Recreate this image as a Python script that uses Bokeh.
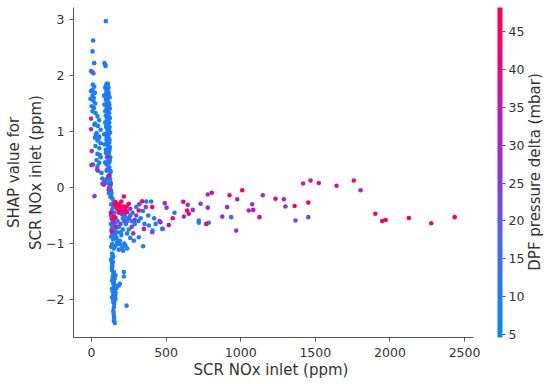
import math
from bokeh.plotting import figure
from bokeh.models import (ColumnDataSource, LinearColorMapper, ColorBar, FixedTicker, Label, Title)
from bokeh.embed import file_html
from bokeh.resources import INLINE

# ---- data (x: SCR NOx inlet ppm, y: SHAP value, c: DPF pressure delta mbar)
upper_left_nox = [11, 7, 18, -3, 13, 5, 9, 18, 7, -3, 23, 7, -7, 13, 25, 2, 16, 7, 27, 40, -3, 52, 23, 43, -3,
                  61, 34, 52, 23, 40, 61, 27, 52, 2, 40, 61, 34, 52, 0, 40, 43, 67, 72, 9, 38, 30, 20, 48, 57, 15]
upper_left_shap = [2.625, 2.43, 2.22, 2.08, 2.04, 2.06, 1.84, 1.80, 1.74, 1.72, 1.69, 1.64, 1.58, 1.55, 1.50, 1.45,
                   1.42, 1.36, 1.33, 1.27, 1.23, 1.20, 1.14, 1.10, 1.04, 1.03, 0.97, 0.91, 0.89, 0.84, 0.79, 0.74,
                   0.70, 0.65, 0.60, 0.54, 0.49, 0.44, 0.40, 0.38, 0.30, 0.26, 0.16, 0.41, 0.32, 0.95, 1.12, 0.87,
                   0.58, 1.60]
upper_left_dpf = [8, 8, 9, 8, 9, 20, 8, 9, 8, 9, 8, 9, 8, 8, 9, 8, 9, 8, 9, 8, 26, 9, 8, 8, 26, 9, 8, 9, 8, 9, 8, 9,
                  8, 27, 8, 9, 8, 9, 26, 8, 27, 9, 8, 26, 26, 9, 8, 9, 8, 9]

upper_right_nox = [96, 87, 94, 92, 101, 110, 105, 96, 92, 114, 110, 101, 98, 116, 85, 107, 112, 121, 96, 105, 105,
                   114, 87, 119, 101, 116, 107, 101, 123, 92, 110, 110, 119, 96, 114, 116, 105, 123, 103, 112, 92,
                   119, 112, 101, 98, 121, 116, 107, 105, 125, 85, 114, 114, 101, 101, 121, 119, 110, 87, 103, 110,
                   123, 121, 96, 96, 116, 114, 105, 103, 125, 109, 123, 112, 92, 119, 110, 101, 119, 105, 101, 127,
                   127, 114, 121, 116, 101, 125, 87, 110, 130, 127, 123, 118, 130, 125, 116, 134, 134, 127]
upper_right_shap = [2.97, 2.22, 2.17, 2.19, 1.85, 1.85, 1.81, 1.81, 1.78, 1.78, 1.73, 1.73, 1.68, 1.68, 1.64, 1.64,
                    1.61, 1.61, 1.57, 1.57, 1.52, 1.52, 1.48, 1.48, 1.48, 1.45, 1.45, 1.41, 1.41, 1.36, 1.36, 1.33,
                    1.33, 1.28, 1.28, 1.24, 1.24, 1.24, 1.21, 1.21, 1.16, 1.16, 1.12, 1.12, 1.08, 1.08, 1.03, 1.03,
                    0.98, 0.98, 0.95, 0.95, 0.90, 0.90, 0.85, 0.85, 0.80, 0.80, 0.77, 0.77, 0.72, 0.72, 0.67, 0.67,
                    0.62, 0.62, 0.59, 0.59, 0.54, 0.54, 0.54, 0.49, 0.49, 0.45, 0.45, 0.41, 0.41, 0.36, 0.32, 0.30,
                    0.30, 0.27, 0.21, 0.21, 0.20, 0.15, 0.15, 0.10, 0.08, 0.08, 0.035, 0.005, 0.005, -0.05, -0.05,
                    -0.10, -0.10, -0.17, -0.17]
upper_right_dpf = [9, 9, 9, 10, 9, 10, 9, 11, 9, 10, 9, 10, 10, 9, 9, 10, 9, 10, 9, 11, 10, 9, 9, 10, 9, 11, 9, 9,
                   10, 10, 9, 9, 10, 11, 9, 9, 10, 9, 9, 10, 10, 9, 9, 11, 9, 10, 10, 9, 9, 10, 10, 9, 9, 10, 10, 9,
                   9, 11, 9, 10, 10, 9, 9, 10, 9, 10, 10, 9, 9, 10, 36, 9, 10, 10, 9, 9, 10, 9, 27, 10, 9, 9, 9, 27,
                   45, 9, 10, 27, 9, 9, 45, 10, 9, 9, 28, 9, 10, 9, 10]

lower_nox = [140, 150, 132, 145, 138, 155, 130, 142, 135, 148, 160, 130, 152, 140, 165, 135, 150, 172, 140, 158, 132,
             168, 145, 180, 172, 138, 190, 161, 228, 206, 239, 150, 183, 212, 132, 138, 146, 132, 138, 138, 150, 146,
             161, 217, 217, 138, 150, 146, 161, 172, 150, 138, 150, 183, 190, 161, 146, 150, 138, 161, 235, 146, 150,
             146, 150, 150, 156, 142, 135, 144, 140, 136, 142, 155, 165, 142, 160, 145, 155, 152, 148, 152]
lower_shap = [-0.20, -0.25, -0.30, -0.35, -0.40, -0.45, -0.50, -0.53, -0.56, -0.60, -0.62, -0.65, -0.68, -0.70,
              -0.72, -0.75, -0.78, -0.80, -0.83, -0.85, -0.88, -0.90, -0.93, -0.96, -0.98, -1.01, -1.01, -1.04,
              -1.04, -1.07, -1.09, -1.09, -1.11, -1.13, -1.06, -1.18, -1.24, -1.30, -1.36, -1.48, -1.51, -1.54,
              -1.57, -1.51, -1.59, -1.66, -1.69, -1.72, -1.75, -1.77, -1.78, -1.81, -1.84, -1.75, -1.72, -1.87,
              -1.90, -1.93, -1.96, -1.99, -2.11, -2.05, -2.14, -2.20, -2.29, -2.38, -2.42, -1.21, -1.27, -1.33,
              -1.40, -1.44, -1.60, -1.63, -1.80, -1.85, -1.92, -2.00, -2.02, -2.08, -2.24, -2.33]
lower_dpf = [9, 10, 9, 9, 10, 9, 9, 10, 9, 9, 10, 9, 9, 11, 9, 10, 9, 10, 9, 9, 10, 9, 9, 10, 9, 9, 10, 9, 10, 9,
             10, 9, 9, 10, 9, 9, 10, 9, 9, 10, 9, 9, 10, 9, 10, 9, 9, 10, 9, 9, 10, 9, 9, 10, 9, 9, 10, 9, 9, 10,
             9, 9, 10, 9, 9, 10, 9, 9, 10, 9, 9, 10, 9, 9, 10, 9, 9, 10, 9, 9, 10, 9]

junction_nox = [161, 177, 190, 168, 194, 212, 183, 206, 228, 221, 235, 250, 150, 161, 139, 217, 340, 317, 200, 185,
                172, 240, 155, 130, 165, 135, 407, 545, 518,
                83, 74, 115, 20, 194, 220, 407, 462, 351, 491, 503, 456, 364, 300, 270, 250, 180, 290, 280, 145,
                205, 260, 320,
                367, 400, 409, 478, 556, 346, 284, 239, 317, 384, 474, 260, 300, 330, 290, 210, 230, 250, 200, 270,
                345, 380, 420, 430, 220, 260, 190, 185, 210, 240, 275, 315, 355, 175, 195, 225, 160, 175]
junction_shap = [-0.26, -0.29, -0.32, -0.35, -0.36, -0.34, -0.40, -0.42, -0.40, -0.46, -0.34, -0.29, -0.52, -0.54,
                 -0.56, -0.16, -0.245, -0.41, -0.25, -0.45, -0.38, -0.44, -0.30, -0.45, -0.70, -0.78, -0.35, -0.55,
                 -0.67,
                 0.05, 0.066, -0.04, -0.155, -0.65, -0.60, -0.80, -0.62, -0.74, -0.28, -0.36, -0.60, -0.35, -0.50,
                 -0.70, -0.55, -0.70, -0.58, -0.82, -0.62, -0.48, -0.38, -0.30,
                 -0.25, -0.25, -0.77, -0.74, -0.45, -1.05, -0.95, -0.82, -0.89, -0.68, -0.74, -0.50, -0.35, -0.55,
                 -0.65, -0.55, -0.65, -0.75, -0.85, -0.60, -0.42, -0.50, -0.55, -0.65, -1.00, -0.90, -0.95, -0.70,
                 -0.75, -0.60, -0.45, -0.60, -0.65, -0.60, -0.80, -0.52, -0.90, -1.00]
junction_dpf = [45, 46, 44, 45, 46, 45, 44, 46, 45, 44, 46, 45, 45, 46, 44, 46, 45, 44, 45, 43, 46, 45, 44, 45, 42,
                40, 45, 44, 40,
                26, 27, 28, 24, 27, 26, 27, 28, 36, 27, 28, 26, 27, 25, 28, 26, 27, 29, 25, 30, 28, 27, 26,
                10, 9, 10, 9, 10, 9, 10, 9, 9, 10, 12, 9, 10, 9, 10, 9, 10, 9, 9, 10, 9, 10, 9, 10, 9, 10, 9, 10,
                9, 10, 9, 10, 9, 9, 10, 9, 9, 10]

tail_nox = [615, 645, 641, 652, 679, 619, 731, 779, 806, 779, 719, 719, 786, 769, 876, 909, 925, 936, 977, 1010,
            970, 1077, 1054, 1084, 1126, 1148, 1233, 1289, 1300, 1361, 1367, 1418, 1468, 1523, 1453, 1453, 1642,
            1758, 1803, 1902, 1948, 1971, 2127, 2277, 2434]
tail_shap = [-0.255, -0.31, -0.41, -0.47, -0.40, -0.52, -0.29, -0.125, -0.095, -0.36, -0.59, -0.63, -0.63, -0.65,
             -0.52, -0.35, -0.14, -0.53, -0.21, -0.05, -0.77, -0.30, -0.41, -0.40, -0.53, -0.14, -0.20, -0.21, -0.34,
             -0.33, -0.59, 0.07, 0.125, 0.08, -0.27, -0.53, 0.03, 0.125, -0.05, -0.47, -0.60, -0.58, -0.545, -0.64,
             -0.53]
tail_dpf = [45, 27, 45, 44, 28, 27, 27, 27, 45, 28, 12, 10, 11, 40, 27, 28, 45, 14, 33, 45, 27, 28, 29, 36, 38, 28,
            45, 28, 30, 44, 23, 33, 37, 33, 44, 22, 36, 45, 30, 45, 45, 45, 45, 37, 45]

x_ticks = [0, 500, 1000, 1500, 2000, 2500]
y_ticks = [-2, -1, 0, 1, 2, 3]
cbar_ticks = [5, 10, 15, 20, 25, 30, 35, 40, 45]

nox = upper_left_nox + upper_right_nox + lower_nox + junction_nox + tail_nox
shap = upper_left_shap + upper_right_shap + lower_shap + junction_shap + tail_shap
dpf = upper_left_dpf + upper_right_dpf + lower_dpf + junction_dpf + tail_dpf

# ---- colormap (blue -> purple -> red, SHAP style)
anchors = [(0.0, (0, 139, 251)), (0.3, (80, 100, 245)), (0.5, (140, 55, 215)),
           (0.68, (190, 25, 180)), (0.85, (235, 5, 125)), (1.0, (255, 0, 82))]
palette = []
for i in range(256):
    t = i / 255
    for (t0, c0), (t1, c1) in zip(anchors[:-1], anchors[1:]):
        if t0 <= t <= t1:
            f = (t - t0) / (t1 - t0)
            rgb = tuple(int(round(a + (b - a) * f)) for a, b in zip(c0, c1))
            palette.append("#%02x%02x%02x" % rgb)
            break

mapper = LinearColorMapper(palette=palette, low=4.6, high=48.2)
src = ColumnDataSource(dict(nox=nox, shap=shap, dpf=dpf))

FONT = "DejaVu Sans"
TXT = "#333333"
X_LO, X_HI = -120.6, 2560.0   # data extent of the visible x axis

# the frame runs to the right canvas edge so the colour bar and its rotated title sit inside it
p = figure(width=550, height=384, x_range=(X_LO, 3076), y_range=(-2.679, 3.214),
           output_backend="svg", toolbar_location=None,
           min_border_left=73, min_border_right=0, min_border_top=7, min_border_bottom=47)
p.outline_line_color = None
p.xgrid.visible = False
p.ygrid.visible = False
p.background_fill_color = "white"

p.scatter(x="nox", y="shap", source=src, size=4.6,
          fill_color={"field": "dpf", "transform": mapper}, line_color=None)

for ax in (p.xaxis[0], p.yaxis[0]):
    ax.axis_line_color = "#555555"
    ax.major_tick_line_color = "#555555"
    ax.major_tick_out = 4
    ax.major_tick_in = 0
    ax.minor_tick_line_color = None
    ax.major_label_text_font = FONT
    ax.major_label_text_font_size = "12.5px"
    ax.major_label_text_color = TXT
    ax.axis_label_text_font = FONT
    ax.axis_label_text_font_size = "15px"
    ax.axis_label_text_font_style = "normal"
    ax.axis_label_text_color = TXT

p.xaxis.bounds = (X_LO, X_HI)
p.xaxis.ticker = FixedTicker(ticks=x_ticks)
p.yaxis.ticker = FixedTicker(ticks=y_ticks)
p.yaxis.major_label_overrides = {-2: "\u22122", -1: "\u22121"}
p.yaxis.axis_label = "SHAP value for\nSCR NOx inlet (ppm)"
p.xaxis.major_label_standoff = 6
p.yaxis.major_label_standoff = 5
p.yaxis.axis_label_standoff = -2

# x-axis title, aligned under the visible part of the x axis (not the full frame)
xt = Title(text="SCR NOx inlet (ppm)", align="left", offset=120, standoff=0,
           vertical_align="middle", text_font=FONT, text_font_size="15px",
           text_font_style="normal", text_color=TXT)
p.add_layout(xt, "below")

cb = ColorBar(color_mapper=mapper, width=5, height=330, padding=0, margin=0, location=(424, 0),
              ticker=FixedTicker(ticks=cbar_ticks), major_tick_in=0, major_tick_out=3,
              major_tick_line_color="#555555", label_standoff=3,
              major_label_text_font=FONT, major_label_text_font_size="12.5px",
              major_label_text_color=TXT, bar_line_color=None, border_line_color=None,
              background_fill_alpha=0)
p.add_layout(cb)

lab = Label(x=2969, y=0.277, text="DPF pressure delta (mbar)", angle=math.pi / 2,
            text_align="center", text_baseline="middle", text_font=FONT,
            text_font_size="15px", text_color=TXT)
p.add_layout(lab)

open("out.html", "w").write(file_html(p, INLINE))
